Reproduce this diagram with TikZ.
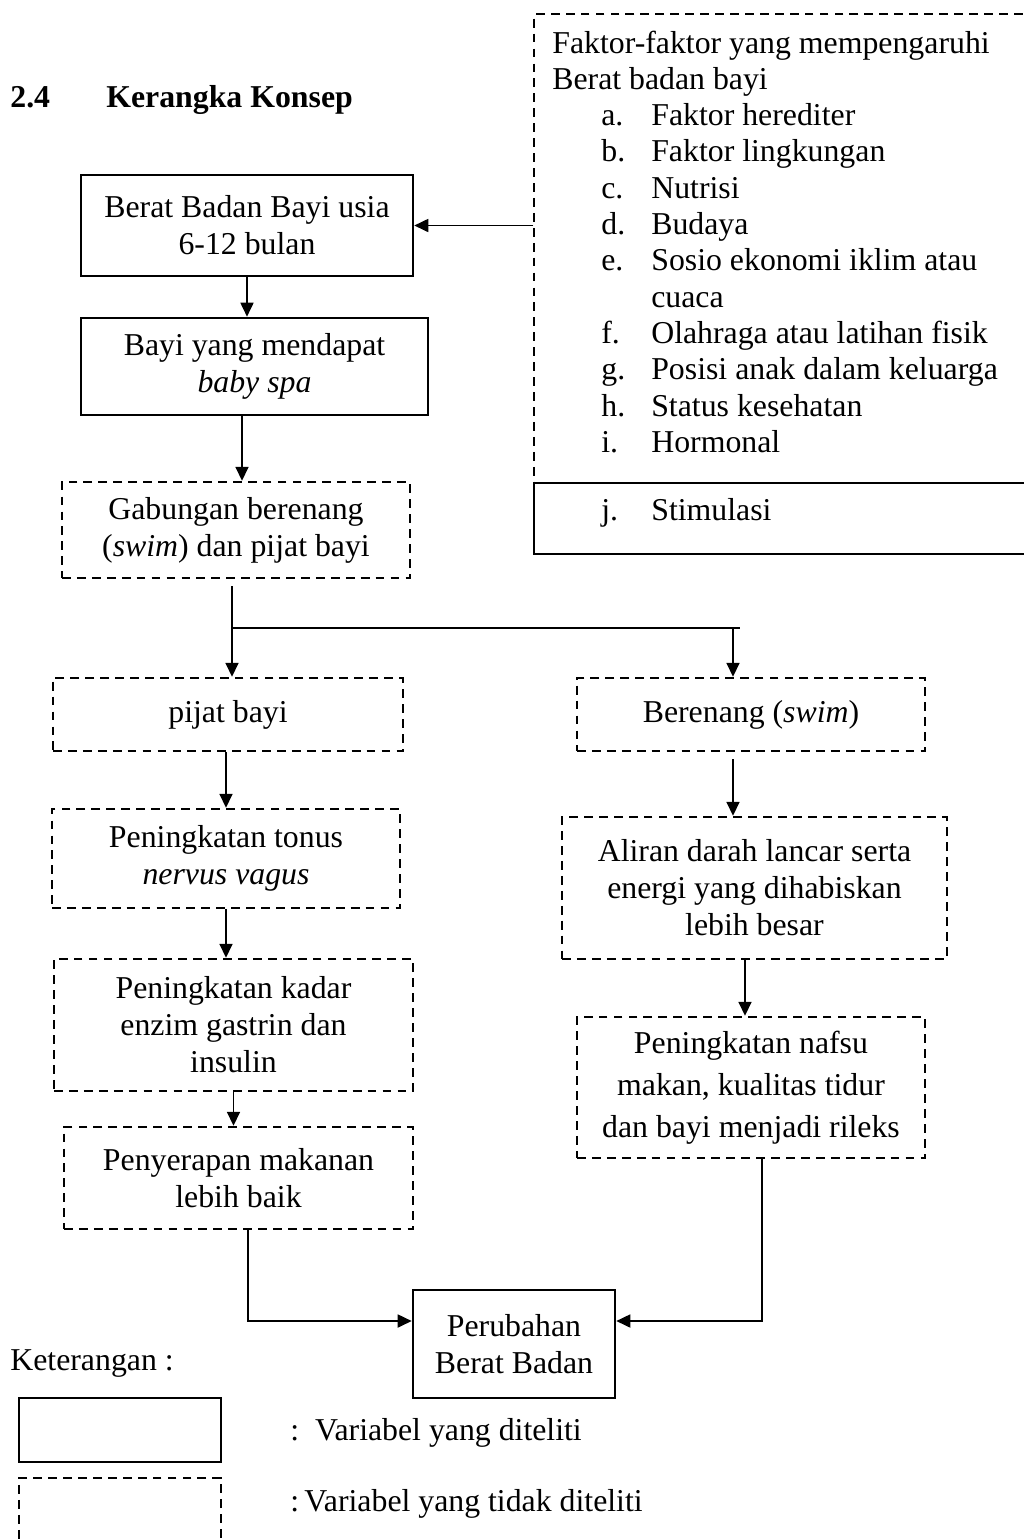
\documentclass[tikz,border=0pt]{standalone}
\usepackage{fontspec}
\setmainfont{Liberation Serif}
\usetikzlibrary{arrows.meta,calc}

\tikzset{
	solidbox/.style={draw, line width=1.5pt, inner sep=0pt, align=center},
	dashbox/.style={draw, line width=1.4pt, dash pattern=on 5pt off 3.5pt, inner sep=0pt, align=center},
	conn/.style={line width=1pt},
	arr/.style={conn, -{Triangle[length=2.8mm,width=2.6mm]}},
	listline/.style={anchor=base west, inner sep=0pt},
}

\begin{document}
\begin{tikzpicture}[x=0.02cm, y=-0.02cm, font=\fontsize{18.1}{21}\selectfont]
			%%%%% START %%%%%
			
			\useasboundingbox (0,0) rectangle (1024,1539);
			\clip (0,0) rectangle (1024,1539);
			
			\node[listline, font=\fontsize{18.1}{21}\selectfont\bfseries] (secnum) at (10,107) {2.4};
			\node[listline, font=\fontsize{18.1}{21}\selectfont\bfseries] (sectitle) at (106,107) {Kerangka Konsep};
			
			% faktor box on the right
			\node[solidbox, line width=1.1pt, anchor=north west, minimum width=9.94cm, minimum height=1.42cm] (stim) at (533,482) {};
			\node[dashbox, anchor=north west, minimum width=9.94cm, minimum height=10.8cm] (faktor) at (533,13) {};
			
			\node[listline] (fhead1) at (552,53) {Faktor-faktor yang mempengaruhi};
			\node[listline] (fhead2) at (552,89.3) {Berat badan bayi};
			\node[listline] (fa) at (601,125.6) {\makebox[1cm][l]{a.}Faktor herediter};
			\node[listline] (fb) at (601,161.9) {\makebox[1cm][l]{b.}Faktor lingkungan};
			\node[listline] (fc) at (601,198.2) {\makebox[1cm][l]{c.}Nutrisi};
			\node[listline] (fd) at (601,234.5) {\makebox[1cm][l]{d.}Budaya};
			\node[listline] (fe) at (601,270.8) {\makebox[1cm][l]{e.}Sosio ekonomi iklim atau};
			\node[listline] (fe2) at (651,307.1) {cuaca};
			\node[listline] (ff) at (601,343.4) {\makebox[1cm][l]{f.}Olahraga atau latihan fisik};
			\node[listline] (fg) at (601,379.7) {\makebox[1cm][l]{g.}Posisi anak dalam keluarga};
			\node[listline] (fh) at (601,416) {\makebox[1cm][l]{h.}Status kesehatan};
			\node[listline] (fi) at (601,452.3) {\makebox[1cm][l]{i.}Hormonal};
			\node[listline] (fj) at (601,520) {\makebox[1cm][l]{j.}Stimulasi};
			
			% main column
			\node[solidbox, minimum width=6.64cm, minimum height=2.02cm] (bb) at (247,225.5) {Berat Badan Bayi usia\\6-12 bulan};
			\node[solidbox, minimum width=6.94cm, minimum height=1.94cm] (spa) at (254.5,366.5) {Bayi yang mendapat\\\textit{baby spa}};
			\node[dashbox, minimum width=6.96cm, minimum height=1.92cm] (gab) at (236,530) {Gabungan berenang\\(\textit{swim}) dan pijat bayi};
			
			\node[dashbox, minimum width=7.0cm, minimum height=1.46cm] (pijat) at (228,714.5) {pijat bayi};
			\node[dashbox, minimum width=6.96cm, minimum height=1.98cm] (tonus) at (226,858.5) {Peningkatan tonus\\\textit{nervus vagus}};
			\node[dashbox, minimum width=7.18cm, minimum height=2.64cm] (kadar) at (233.5,1025) {Peningkatan kadar\\enzim gastrin dan\\insulin};
			\node[dashbox, minimum width=6.98cm, minimum height=2.04cm] (serap) at (238.5,1178) {Penyerapan makanan\\lebih baik};
			
			\node[dashbox, minimum width=6.96cm, minimum height=1.46cm] (renang) at (751,714.5) {Berenang (\textit{swim})};
			\node[dashbox, minimum width=7.7cm, minimum height=2.84cm] (aliran) at (754.5,888) {Aliran darah lancar serta\\energi yang dihabiskan\\lebih besar};
			\node[dashbox, minimum width=6.96cm, minimum height=2.82cm, font=\fontsize{18.1}{24}\selectfont] (nafsu) at (751,1087.5) {Peningkatan nafsu\\makan, kualitas tidur\\dan bayi menjadi rileks};
			
			\node[solidbox, minimum width=4.04cm, minimum height=2.16cm] (ubah) at (514,1344) {Perubahan\\Berat Badan};
			
			% connectors
			\draw[arr] (faktor.west |- bb.east) -- (bb.east);
			\draw[arr] (bb.south) -- (bb.south |- spa.north);
			\coordinate (s2g) at ($(spa.south)+(-12.5,0)$);
			\draw[arr] (s2g) -- (s2g |- gab.north);
			
			\coordinate (split) at (232,628);
			\coordinate (splitR) at (733,628);
			\draw[conn] ($(gab.south -| split)+(0,7)$) -- (split) -- ($(splitR)+(7,0)$);
			\draw[arr] (split) -- (split |- pijat.north);
			\draw[arr] (splitR) -- (splitR |- renang.north);
			
			\draw[arr] (tonus.north |- pijat.south) -- (tonus.north);
			\draw[arr] (tonus.south) -- (tonus.south |- kadar.north);
			\draw[arr] (kadar.south) -- (kadar.south |- serap.north);
			
			\draw[arr] ($(renang.south -| splitR)+(0,7)$) -- (splitR |- aliran.north);
			\coordinate (a2n) at ($(aliran.south)+(-9.5,0)$);
			\draw[arr] (a2n) -- (a2n |- nafsu.north);
			
			\coordinate (inL) at ($(ubah.west)+(0,-23)$);
			\coordinate (inR) at ($(ubah.east)+(0,-23)$);
			\draw[arr] ($(serap.south)+(9.5,0)$) |- (inL);
			\draw[arr] ($(nafsu.south)+(11,0)$) |- (inR);
			
			% legend
			\node[listline] (ket) at (10,1370) {Keterangan :};
			\node[solidbox, minimum width=4.04cm, minimum height=1.28cm] (ketA) at (120,1430) {};
			\node[dashbox, minimum width=4.04cm, minimum height=1.64cm] (ketB) at (120,1519) {};
			\node[listline] (ketAtxt) at (290,1440) {:\ \ Variabel yang diteliti};
			\node[listline] (ketBtxt) at (290,1511) {:\,Variabel yang tidak diteliti};
			
			%%%%% END %%%%%
\end{tikzpicture}
\end{document}
